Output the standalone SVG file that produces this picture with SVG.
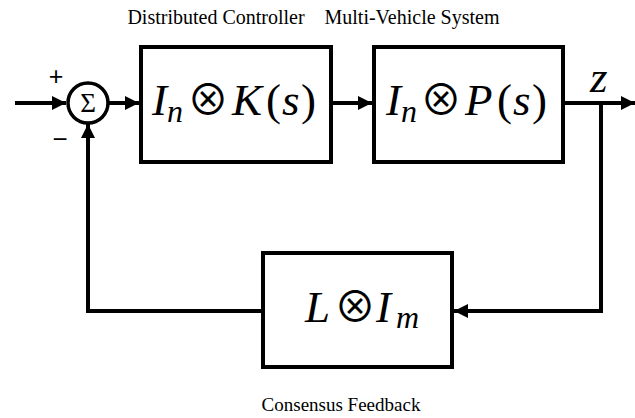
<svg xmlns="http://www.w3.org/2000/svg" width="635" height="418" viewBox="0 0 635 418">
<defs>
<marker id="ah" markerUnits="userSpaceOnUse" markerWidth="14" markerHeight="14" refX="14" refY="7" orient="auto">
<path d="M0,0 L14,7 L0,14 z" fill="#000"/>
</marker>
</defs>
<style>
.blk{fill:#fff;stroke:#000;stroke-width:4}
.wire{fill:none;stroke:#000;stroke-width:4}
.lbl{font-family:'Liberation Serif','Times New Roman',Tinos,serif;fill:#000}
.math{font-family:'Liberation Serif','Times New Roman',Tinos,serif;font-size:45px;fill:#000}
.it{font-style:italic}
.op{font-family:'Noto Sans CJK JP','DejaVu Serif',serif;font-size:42px;font-style:normal}
</style>
<rect width="635" height="418" fill="#fff"/>
<g id="connectors">
<path class="wire" d="M15,103 H66" marker-end="url(#ah)"/>
<path class="wire" d="M108,103 H139" marker-end="url(#ah)"/>
<path class="wire" d="M331,103 H372" marker-end="url(#ah)"/>
<path class="wire" d="M563,103 H635" marker-end="url(#ah)"/>
<path class="wire" d="M601,103 V311 H454" marker-end="url(#ah)"/>
<path class="wire" d="M263,311 H88 V124" marker-end="url(#ah)"/>
</g>
<g id="sum">
<circle cx="88" cy="103" r="20" fill="#fff" stroke="#000" stroke-width="3.5"/>
<text class="lbl" x="88" y="112" font-size="27" text-anchor="middle">Σ</text>
<text x="56" y="85" font-family="Liberation Sans, Arial, sans-serif" font-size="25" text-anchor="middle">+</text>
<text x="60" y="148" font-family="Liberation Sans, Arial, sans-serif" font-size="26" text-anchor="middle">−</text>
</g>
<g id="controller">
<rect class="blk" x="141" y="47" width="190" height="115"/>
<text class="math"><tspan class="it" x="152" y="115">I</tspan><tspan class="it" x="167" y="122" font-size="32">n</tspan><tspan class="op" x="208" y="115" text-anchor="middle">⊗</tspan><tspan class="it" x="232" y="115">K</tspan><tspan x="266" y="115">(</tspan><tspan class="it" x="282" y="115">s</tspan><tspan x="301" y="115">)</tspan></text>
<text class="lbl" x="216" y="24" font-size="20" text-anchor="middle">Distributed Controller</text>
</g>
<g id="plant">
<rect class="blk" x="374" y="47" width="189" height="115"/>
<text class="math"><tspan class="it" x="386" y="115">I</tspan><tspan class="it" x="401" y="122" font-size="32">n</tspan><tspan class="op" x="441" y="115" text-anchor="middle">⊗</tspan><tspan class="it" x="465" y="115">P</tspan><tspan x="497" y="115">(</tspan><tspan class="it" x="513" y="115">s</tspan><tspan x="532" y="115">)</tspan></text>
<text class="lbl" x="412" y="24" font-size="20" text-anchor="middle">Multi-Vehicle System</text>
</g>
<g id="output">
<text class="math it" x="590" y="92">z</text>
</g>
<g id="feedback">
<rect class="blk" x="263" y="253" width="189" height="114"/>
<text class="math"><tspan class="it" x="305" y="322">L</tspan><tspan class="op" x="355" y="322" text-anchor="middle">⊗</tspan><tspan class="it" x="376" y="322">I</tspan><tspan class="it" x="396" y="328" font-size="32">m</tspan></text>
<text class="lbl" x="341" y="411" font-size="19" text-anchor="middle">Consensus Feedback</text>
</g>
</svg>
